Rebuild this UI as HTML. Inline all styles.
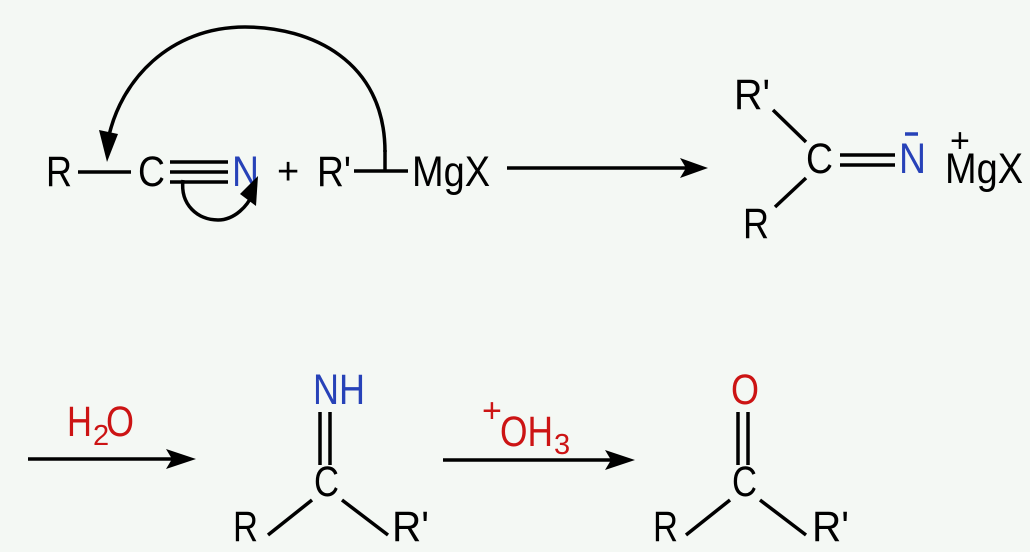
<!DOCTYPE html>
<html><head><meta charset="utf-8"><style>
html,body{margin:0;padding:0;background:#f4f8f4;}
svg{display:block}
text{font-family:"Liberation Sans",Arial,sans-serif;}
</style></head><body>
<svg width="1030" height="552" viewBox="0 0 1030 552" xmlns="http://www.w3.org/2000/svg">
<rect width="1030" height="552" fill="#f4f8f4"/>
<g font-size="43" fill="#000">
<text x="46" y="186" textLength="26" lengthAdjust="spacingAndGlyphs">R</text>
<text x="138" y="186" textLength="27" lengthAdjust="spacingAndGlyphs">C</text>
<text x="232" y="186" fill="#2742b8" textLength="27" lengthAdjust="spacingAndGlyphs">N</text>
<text x="277" y="184" font-size="38">+</text>
<text x="317" y="186" textLength="34" lengthAdjust="spacingAndGlyphs">R'</text>
<text x="412" y="186" textLength="78" lengthAdjust="spacingAndGlyphs">MgX</text>
</g>
<g stroke="#000" stroke-width="3.5" fill="none">
<line x1="78" y1="172" x2="131" y2="172"/>
<line x1="170" y1="162" x2="228" y2="162"/>
<line x1="170" y1="172" x2="228" y2="172"/>
<line x1="170" y1="182" x2="228" y2="182"/>
<line x1="354" y1="171" x2="408" y2="171"/>
<line x1="385" y1="171" x2="385" y2="150"/>
<path d="M385 152 C385 60 310 27 245 27 C170 27 120 80 108 140"/>
<path d="M183 180 C180 205 198 220 218 220 C235 220 248 205 252 195"/>
<line x1="507" y1="168" x2="690" y2="168"/>
</g>
<polygon points="107,162 99,130 118,134" fill="#000"/>
<polygon points="258,176 256,206 240,194" fill="#000"/>
<polygon points="708,168 680,158 686,168 680,178" fill="#000"/>

<g font-size="43" fill="#000">
<text x="734" y="109" textLength="36" lengthAdjust="spacingAndGlyphs">R'</text>
<text x="806" y="173" textLength="27" lengthAdjust="spacingAndGlyphs">C</text>
<text x="899" y="173" fill="#2742b8" textLength="27" lengthAdjust="spacingAndGlyphs">N</text>
<text x="945" y="183" textLength="78" lengthAdjust="spacingAndGlyphs">MgX</text>
<text x="743" y="238" textLength="26" lengthAdjust="spacingAndGlyphs">R</text>
<text x="950" y="152" font-size="34">+</text>
</g>
<g stroke="#000" stroke-width="3.5">
<line x1="773" y1="110" x2="806" y2="142"/>
<line x1="775" y1="207" x2="806" y2="178"/>
<line x1="840" y1="155" x2="895" y2="155"/>
<line x1="840" y1="165" x2="895" y2="165"/>
<line x1="905" y1="134" x2="918" y2="134" stroke="#2742b8"/>
</g>

<g stroke="#000" stroke-width="3.5">
<line x1="28" y1="459" x2="175" y2="459"/>
<line x1="443" y1="460" x2="615" y2="460"/>
<line x1="320" y1="412" x2="320" y2="465"/>
<line x1="330" y1="412" x2="330" y2="465"/>
<line x1="312" y1="500" x2="268" y2="535"/>
<line x1="342" y1="500" x2="388" y2="535"/>
<line x1="738" y1="412" x2="738" y2="465"/>
<line x1="748" y1="412" x2="748" y2="465"/>
<line x1="730" y1="500" x2="686" y2="535"/>
<line x1="760" y1="500" x2="806" y2="535"/>
</g>
<polygon points="196,459 166,449 172,459 166,469" fill="#000"/>
<polygon points="635,460 605,450 611,460 605,470" fill="#000"/>
<g font-size="43" fill="#000">
<text x="313" y="404" fill="#2742b8" textLength="52" lengthAdjust="spacingAndGlyphs">NH</text>
<text x="314" y="496" textLength="25" lengthAdjust="spacingAndGlyphs">C</text>
<text x="233" y="541" textLength="25" lengthAdjust="spacingAndGlyphs">R</text>
<text x="392" y="541" textLength="37" lengthAdjust="spacingAndGlyphs">R'</text>
<text x="731" y="404" fill="#cc1414" textLength="28" lengthAdjust="spacingAndGlyphs">O</text>
<text x="732" y="496" textLength="25" lengthAdjust="spacingAndGlyphs">C</text>
<text x="653" y="541" textLength="25" lengthAdjust="spacingAndGlyphs">R</text>
<text x="812" y="541" textLength="37" lengthAdjust="spacingAndGlyphs">R'</text>
<text x="67" y="436" fill="#cc1414" textLength="25" lengthAdjust="spacingAndGlyphs">H</text>
<text x="93" y="445" fill="#cc1414" font-size="29">2</text>
<text x="106" y="436" fill="#cc1414" textLength="28" lengthAdjust="spacingAndGlyphs">O</text>
<text x="482" y="422" fill="#cc1414" font-size="34">+</text>
<text x="500" y="446" fill="#cc1414" textLength="53" lengthAdjust="spacingAndGlyphs">OH</text>
<text x="554" y="454" fill="#cc1414" font-size="29">3</text>
</g>
</svg>
</body></html>
